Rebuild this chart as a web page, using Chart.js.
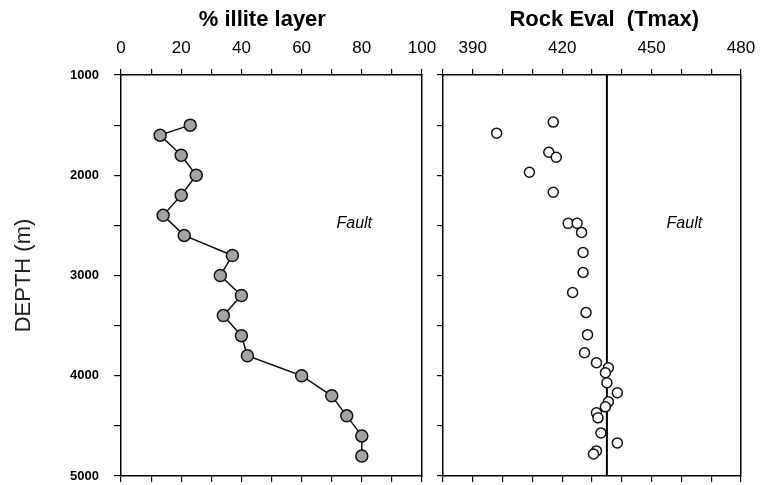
<!DOCTYPE html>
<html>
<head>
<meta charset="utf-8">
<script src="https://cdn.jsdelivr.net/npm/chart.js@4"></script>
<style>
  body { margin: 0; background: #fff; overflow: hidden; }
  #wrap { position: relative; width: 761px; height: 485px; }
  canvas { position: absolute; top: 0; }
  #leftChart { left: 0; }
  #rightChart { left: 425px; }
</style>
</head>
<body>
<div id="wrap">
  <canvas id="leftChart" width="440" height="485"></canvas>
  <canvas id="rightChart" width="336" height="485"></canvas>
</div>
<script>
// % illite layer vs depth
const illitePct = [23, 13, 20, 25, 20, 14, 21, 37, 33, 40, 34, 40, 42, 60, 70, 75, 80, 80];
const illiteDepth = [1500, 1600, 1800, 2000, 2200, 2400, 2600, 2800, 3000, 3200, 3400, 3600, 3800, 4000, 4200, 4400, 4600, 4800];

// Rock Eval Tmax vs depth
const tmaxValues = [417, 398, 415.5, 418, 409, 417, 422, 425, 426.5, 427, 427, 423.5, 428, 428.5, 427.5,
  431.5, 435.5, 434.5, 435, 438.5, 435.5, 434.5, 431.5, 432, 433, 438.5, 431.5, 430.5];
const tmaxDepth = [1470, 1580, 1770, 1820, 1970, 2170, 2480, 2480, 2570, 2770, 2970, 3170, 3370, 3590, 3770,
  3870, 3920, 3970, 4070, 4170, 4260, 4310, 4370, 4420, 4570, 4670, 4750, 4780];

// fault line position and labels
const faultTmax = 435;
const depthRange = [1000, 5000];
const illiteTicks = [0, 20, 40, 60, 80, 100];
const tmaxTicks = [390, 420, 450, 480];

const FONT = "Arial, 'Liberation Sans', sans-serif";

function toPoints(xs, ys) {
  return xs.map((x, i) => ({ x: x, y: ys[i] }));
}

// fixed box sizes, no extra label padding pushed into the chart area
function fixSize(scale, size) {
  if (scale.isHorizontal()) scale.height = size; else scale.width = size;
  scale.paddingLeft = 0;
  scale.paddingRight = 0;
  scale.paddingTop = 0;
  scale.paddingBottom = 0;
}

const faultLabel = {
  id: 'faultLabel',
  afterDatasetsDraw(chart, args, opts) {
    const ctx = chart.ctx;
    ctx.save();
    ctx.font = "italic 16px " + FONT;
    ctx.fillStyle = '#000';
    ctx.textAlign = 'center';
    ctx.textBaseline = 'middle';
    ctx.fillText('Fault', chart.scales.x.getPixelForValue(opts.x), chart.scales.y.getPixelForValue(opts.y));
    ctx.restore();
  }
};

function frameAxis(position, size, extra) {
  return Object.assign({
    position: position,
    border: { display: true, color: '#000', width: 1.5 },
    grid: { drawOnChartArea: false, drawTicks: true, tickLength: 6, color: '#000', lineWidth: 1.2 },
    ticks: { display: false },
    afterFit(scale) { fixSize(scale, size); }
  }, extra);
}

function topAxis(min, max, labels, title, titleSize) {
  return {
    position: 'top',
    min: min,
    max: max,
    border: { display: true, color: '#000', width: 1.5 },
    grid: { drawOnChartArea: false, tickLength: 6, color: '#000', lineWidth: 1.2 },
    ticks: {
      stepSize: 10,
      autoSkip: false,
      maxRotation: 0,
      padding: 10,
      color: '#000',
      font: { family: FONT, size: 17 },
      callback: v => labels.includes(v) ? v : ''
    },
    title: {
      display: true,
      text: title,
      color: '#000',
      font: { family: FONT, size: titleSize, weight: 'bold' },
      padding: { top: 7, bottom: 0 }
    },
    afterFit(scale) { fixSize(scale, 75); }
  };
}

// left panel
new Chart(document.getElementById('leftChart'), {
  type: 'scatter',
  data: {
    datasets: [{
      data: toPoints(illitePct, illiteDepth),
      showLine: true,
      borderColor: '#111',
      borderWidth: 1.5,
      pointRadius: 6,
      pointBackgroundColor: '#a3a3a3',
      pointBorderColor: '#111',
      pointBorderWidth: 1.5,
      xAxisID: 'x',
      yAxisID: 'y'
    }]
  },
  plugins: [faultLabel],
  options: {
    responsive: false,
    animation: false,
    layout: { padding: 0 },
    plugins: {
      legend: { display: false },
      tooltip: { enabled: false },
      faultLabel: { x: 77.5, y: 2480 }
    },
    scales: {
      x: topAxis(0, 100, illiteTicks, '% illite layer   ', 22),
      x2: frameAxis('bottom', 9, { min: 0, max: 100, ticks: { display: false, stepSize: 10, autoSkip: false } }),
      y: {
        position: 'left',
        reverse: true,
        min: depthRange[0],
        max: depthRange[1],
        border: { display: true, color: '#000', width: 1.5 },
        grid: { drawOnChartArea: false, tickLength: 7, color: '#000', lineWidth: 1.2 },
        ticks: {
          stepSize: 500,
          autoSkip: false,
          padding: 15,
          color: '#000',
          font: { family: FONT, size: 13, weight: 'bold' },
          callback: v => v % 1000 === 0 ? v : ''
        },
        title: {
          display: true,
          text: 'DEPTH (m)',
          color: '#222',
          font: { family: FONT, size: 22 },
          padding: { top: 11, bottom: 0 }
        },
        afterFit(scale) { fixSize(scale, 121); }
      },
      y2: frameAxis('right', 18, { min: depthRange[0], max: depthRange[1], reverse: true, grid: { display: false } })
    }
  }
});

// right panel
new Chart(document.getElementById('rightChart'), {
  type: 'scatter',
  data: {
    datasets: [{
      data: toPoints(tmaxValues, tmaxDepth),
      pointRadius: 5,
      pointBackgroundColor: '#fff',
      pointBorderColor: '#111',
      pointBorderWidth: 1.5,
      xAxisID: 'x',
      yAxisID: 'y'
    }, {
      data: [{ x: faultTmax, y: depthRange[0] }, { x: faultTmax, y: depthRange[1] }],
      showLine: true,
      borderColor: '#000',
      borderWidth: 2,
      pointRadius: 0,
      xAxisID: 'x',
      yAxisID: 'y'
    }]
  },
  plugins: [faultLabel],
  options: {
    responsive: false,
    animation: false,
    layout: { padding: 0 },
    plugins: {
      legend: { display: false },
      tooltip: { enabled: false },
      faultLabel: { x: 461, y: 2480 }
    },
    scales: {
      x: topAxis(380, 480, tmaxTicks, '    Rock Eval  (Tmax)', 22),
      x2: frameAxis('bottom', 9, { min: 380, max: 480, ticks: { display: false, stepSize: 10, autoSkip: false } }),
      y: frameAxis('left', 18, { min: depthRange[0], max: depthRange[1], reverse: true,
        ticks: { display: false, stepSize: 500, autoSkip: false } }),
      y2: frameAxis('right', 20, { min: depthRange[0], max: depthRange[1], reverse: true, grid: { display: false } })
    }
  }
});
</script>
</body>
</html>
